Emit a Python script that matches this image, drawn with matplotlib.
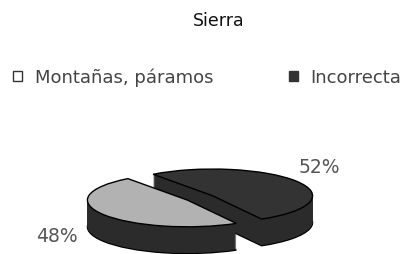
import numpy as np
import matplotlib.pyplot as plt
from matplotlib.patches import Patch

plt.rcParams['font.family'] = ['DejaVu Sans']

# Datos
titulo = 'Sierra'
categorias = ['Montañas, páramos', 'Incorrecta']
valores = [48, 52]
colores_sup = ['#b2b2b2', '#333333']
color_lado = '#2b2b2b'

fig = plt.figure(figsize=(4.07, 2.55), dpi=100)
ax = fig.add_axes([0, 0, 1, 1])

inicio = 126.5      # angulo de inicio del primer sector
separar = [0.15, 0.15]
grosor = 1.0        # altura del "disco" en unidades de radio
capas = 40

# Paredes laterales: el mismo pastel apilado hacia abajo
for k in range(capas, 0, -1):
    dz = grosor * k / capas
    lw = 1.0 if k == capas else 0
    ax.pie(valores, startangle=inicio, explode=separar, center=(0, -dz),
           colors=[color_lado] * len(valores),
           wedgeprops=dict(linewidth=lw, edgecolor='black'))

# Cara superior
sectores, _ = ax.pie(valores, startangle=inicio, explode=separar,
                     colors=colores_sup,
                     wedgeprops=dict(linewidth=1.0, edgecolor='black'))

ax.set_aspect('auto')
ax.set_xlim(-2.0, 2.07)
ax.set_ylim(-2.1, 7.45)
ax.axis('off')

# Etiquetas de porcentaje
total = sum(valores)
ax.text(-1.43, -1.42, f'{valores[0] / total:.0%}', ha='center', va='center',
        fontsize=13.5, color='#555555')
ax.text(1.19, 1.16, f'{valores[1] / total:.0%}', ha='center', va='center',
        fontsize=13.5, color='#555555')

fig.text(0.538, 1 - 21 / 255, titulo, ha='center', va='center',
         fontsize=12.5, color='#111111')

manejadores = [Patch(facecolor='white', edgecolor='#333333', linewidth=1),
               Patch(facecolor='#333333', edgecolor='#333333', linewidth=1)]
fig.legend(manejadores, categorias, ncol=2, loc='center left',
           bbox_to_anchor=(0.032, 1 - 78 / 255), frameon=False,
           borderaxespad=0, borderpad=0, handlelength=0.5, handleheight=0.5,
           handletextpad=0.7, columnspacing=4.2, fontsize=13,
           labelcolor='#444444')

plt.savefig('out.png', dpi=100)
